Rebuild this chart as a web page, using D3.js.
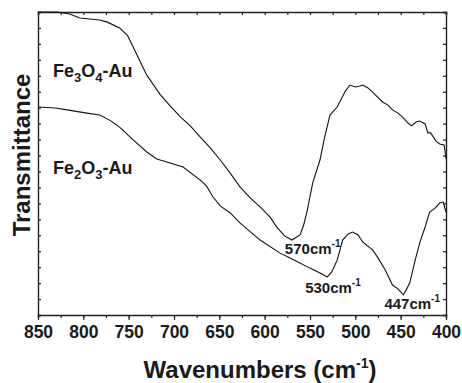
<!DOCTYPE html>
<html>
<head>
<meta charset="utf-8">
<script src="https://cdn.jsdelivr.net/npm/d3@7"></script>
<style>
  body { margin: 0; background: #fff; }
  text { font-family: "Liberation Sans", Arial, sans-serif; font-weight: bold; fill: #1a1a1a; }
</style>
</head>
<body>
<svg id="chart"></svg>
<script>
// wavenumber (cm-1), transmittance (a.u.)
const fe3o4 = [
  [850, 95.0], [829, 95.0], [815, 94.4], [804, 93.1], [793, 92.8], [782, 92.5], [774, 91.9],
  [760, 90.0], [751, 87.5], [745, 84.0], [738, 79.9], [730, 75.2], [715, 69.0], [704, 65.5],
  [693, 62.1], [682, 59.3], [671, 55.8], [660, 52.4], [649, 48.6], [638, 44.5], [627, 40.1],
  [616, 36.7], [605, 33.9], [594, 30.7], [586, 27.3], [578, 24.8], [570, 23.5], [561, 25.1],
  [557, 28.2], [553, 32.9], [547, 41.4], [539, 48.6], [534, 55.5], [528, 62.7], [520, 65.2],
  [511, 70.2], [506, 72.1], [500, 71.5], [495, 71.8], [492, 72.1], [486, 71.2], [481, 69.9],
  [470, 66.8], [464, 65.8], [459, 64.3], [453, 63.3], [447, 61.8], [442, 60.2], [438, 59.3],
  [433, 60.5], [429, 60.8], [423, 59.9], [420, 57.1], [417, 57.1], [411, 54.5], [407, 53.6],
  [402, 53.3], [400, 49.0]
];
const fe2o3 = [
  [850, 65.2], [831, 64.9], [818, 64.3], [796, 63.3], [782, 62.7], [771, 61.1], [760, 58.9],
  [745, 54.9], [730, 51.1], [719, 48.9], [708, 48.0], [690, 46.4], [671, 42.3], [664, 40.4],
  [657, 37.0], [649, 34.2], [638, 32.0], [627, 28.8], [605, 23.5], [583, 19.4], [572, 17.9],
  [550, 14.7], [539, 13.2], [531, 11.9], [526, 13.5], [520, 17.2], [514, 23.5], [508, 25.4],
  [503, 26.0], [497, 25.1], [492, 22.9], [481, 20.4], [475, 17.9], [467, 14.1], [459, 9.4],
  [453, 8.2], [447, 6.3], [444, 7.8], [440, 10.0], [434, 17.2], [429, 22.6], [423, 27.6],
  [418, 32.3], [412, 33.5], [407, 35.1], [403, 35.4], [400, 32.3]
];
const xTicks = [850, 800, 750, 700, 650, 600, 550, 500, 450, 400];
const xMinor = d3.range(850, 399, -25);
const yTicks = d3.range(0, 96, 5);
const peaks = [
  { w: 570, v: 23.5, label: "570cm", dx: -7, dy: 14 },
  { w: 530, v: 11.9, label: "530cm", dx: -23, dy: 16 },
  { w: 447, v: 6.3, label: "447cm", dx: -19, dy: 14 }
];

const W = 462, H = 383;
const margin = { top: 12, right: 16, bottom: 68, left: 38 };
const width = W - margin.left - margin.right;
const height = H - margin.top - margin.bottom;

const svg = d3.select("#chart").attr("width", W).attr("height", H);
const g = svg.append("g").attr("transform", `translate(${margin.left},${margin.top})`);

const x = d3.scaleLinear().domain([850, 400]).range([0, width]);
const y = d3.scaleLinear().domain([0, 95]).range([height, 0]);

// bottom axis: major + minor ticks
const bottom = g.append("g").attr("transform", `translate(0,${height})`)
  .call(d3.axisBottom(x).tickValues(xMinor).tickSize(3).tickFormat(""));
bottom.append("g")
  .call(d3.axisBottom(x).tickValues(xTicks).tickSize(5).tickPadding(6).tickFormat(d3.format("d")))
  .call(s => s.select(".domain").remove())
  .selectAll("text").style("font-size", "17.5px").attr("fill", "#1a1a1a");

// top axis, ticks inward
g.append("g").call(d3.axisBottom(x).tickValues(xMinor).tickSize(3).tickFormat(""));
// left & right axes, ticks inward
g.append("g").call(d3.axisRight(y).tickValues(yTicks).tickSize(3).tickFormat(""));
g.append("g").attr("transform", `translate(${width},0)`)
  .call(d3.axisLeft(y).tickValues(yTicks).tickSize(3).tickFormat(""));

g.selectAll(".domain").attr("stroke", "#222").attr("stroke-width", 1.4);
g.selectAll(".tick line").attr("stroke", "#222").attr("stroke-width", 1.2);

const line = d3.line().x(d => x(d[0])).y(d => y(d[1]));
[fe3o4, fe2o3].forEach(s => {
  g.append("path").datum(s)
    .attr("fill", "none").attr("stroke", "#111").attr("stroke-width", 1.1)
    .attr("d", line);
});

// series labels
function formula(parts, tx, ty) {
  const t = g.append("text").attr("x", tx).attr("y", ty).style("font-size", "18px");
  parts.forEach(p => {
    if (p.sub) {
      t.append("tspan").attr("dy", 5).style("font-size", "13px").text(p.t);
    } else {
      t.append("tspan").attr("dy", p.back ? -5 : 0).text(p.t);
    }
  });
}
formula([{ t: "Fe" }, { t: "3", sub: true }, { t: "O", back: true }, { t: "4", sub: true }, { t: "-Au", back: true }], 15, 65);
formula([{ t: "Fe" }, { t: "2", sub: true }, { t: "O", back: true }, { t: "3", sub: true }, { t: "-Au", back: true }], 15, 162);

// peak labels
peaks.forEach(p => {
  const t = g.append("text")
    .attr("x", x(p.w) + p.dx).attr("y", y(p.v) + p.dy)
    .style("font-size", "15px");
  t.append("tspan").text(p.label);
  t.append("tspan").attr("dy", -7).style("font-size", "10px").text("-1");
});

// axis titles
const xt = svg.append("text")
  .attr("x", 260).attr("y", 378)
  .attr("text-anchor", "middle").style("font-size", "24px");
xt.append("tspan").text("Wavenumbers (cm");
xt.append("tspan").attr("dy", -10).style("font-size", "14px").text("-1");
xt.append("tspan").attr("dy", 10).text(")");

svg.append("text")
  .attr("transform", "translate(30,155) rotate(-90)")
  .attr("text-anchor", "middle").style("font-size", "24px")
  .text("Transmittance");
</script>
</body>
</html>
